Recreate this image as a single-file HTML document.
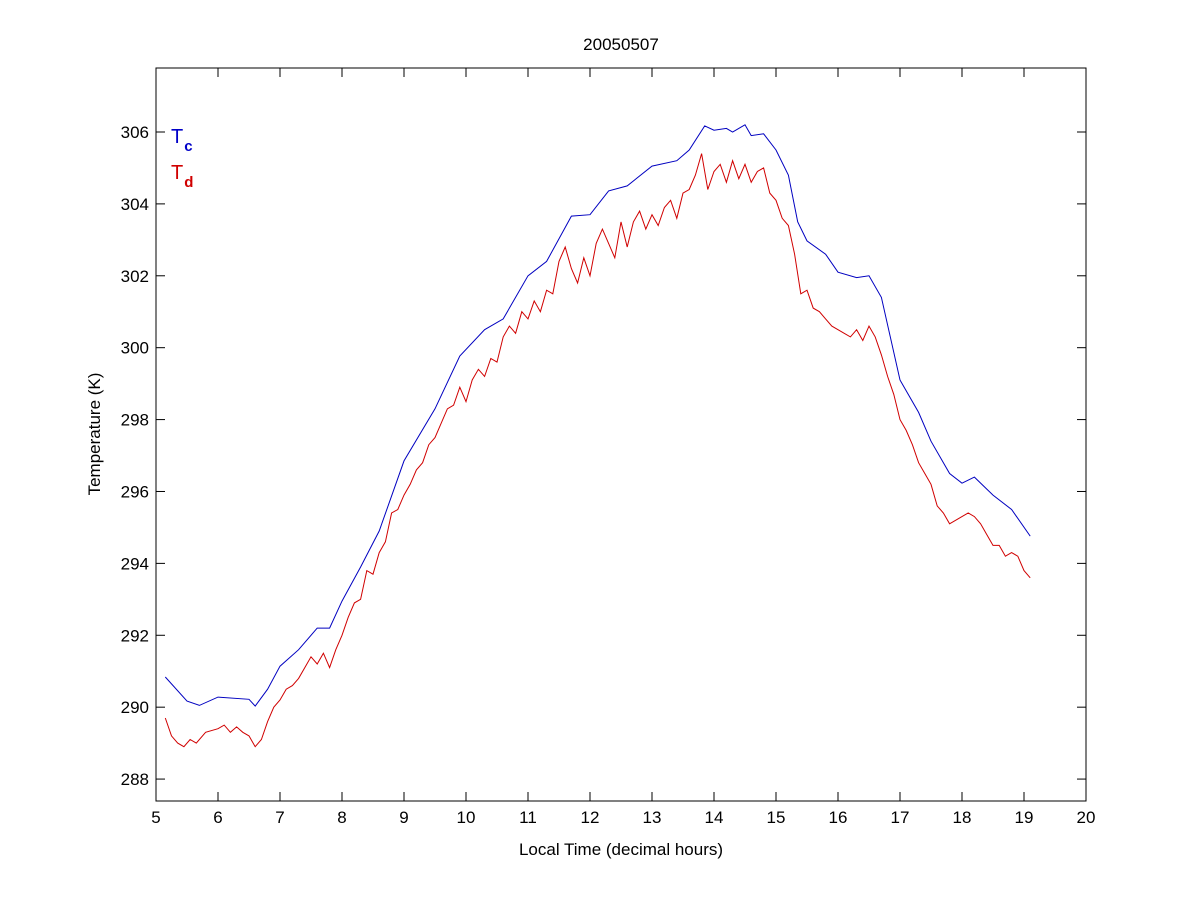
<!DOCTYPE html>
<html><head><meta charset="utf-8"><style>
html,body{margin:0;padding:0;background:#fff;}
svg text{font-family:"Liberation Sans",Arial,sans-serif;}
</style></head><body>
<svg id="chart" width="1200" height="900" xmlns="http://www.w3.org/2000/svg">
<rect x="0" y="0" width="1200" height="900" fill="#fff"/>
<g id="plot"></g>
</svg>
<script>
const xTicks=[5,6,7,8,9,10,11,12,13,14,15,16,17,18,19,20];
const yTicks=[288,290,292,294,296,298,300,302,304,306];
const tcTime=[5.15,5.5,5.7,6.0,6.5,6.6,6.8,7.0,7.3,7.6,7.8,8.0,8.3,8.6,9.0,9.5,9.9,10.3,10.6,11.0,11.3,11.7,12.0,12.3,12.6,13.0,13.4,13.6,13.85,14.0,14.2,14.3,14.5,14.6,14.8,15.0,15.2,15.35,15.5,15.8,16.0,16.3,16.5,16.7,17.0,17.3,17.5,17.8,18.0,18.2,18.5,18.8,19.1];
const tcValues=[290.84,290.17,290.05,290.28,290.22,290.03,290.5,291.14,291.6,292.2,292.2,292.95,293.9,294.9,296.85,298.3,299.77,300.5,300.8,302.0,302.4,303.66,303.7,304.36,304.5,305.05,305.2,305.5,306.17,306.05,306.1,306.0,306.2,305.9,305.95,305.5,304.8,303.5,302.97,302.6,302.1,301.95,302.0,301.4,299.1,298.2,297.4,296.5,296.23,296.4,295.9,295.5,294.76];
const tdTime=[5.15,5.25,5.35,5.45,5.55,5.65,5.8,6.0,6.1,6.2,6.3,6.4,6.5,6.6,6.7,6.8,6.9,7.0,7.1,7.2,7.3,7.4,7.5,7.6,7.7,7.8,7.9,8.0,8.1,8.2,8.3,8.4,8.5,8.6,8.7,8.8,8.9,9.0,9.1,9.2,9.3,9.4,9.5,9.6,9.7,9.8,9.9,10.0,10.1,10.2,10.3,10.4,10.5,10.6,10.7,10.8,10.9,11.0,11.1,11.2,11.3,11.4,11.5,11.6,11.7,11.8,11.9,12.0,12.1,12.2,12.3,12.4,12.5,12.6,12.7,12.8,12.9,13.0,13.1,13.2,13.3,13.4,13.5,13.6,13.7,13.8,13.9,14.0,14.1,14.2,14.3,14.4,14.5,14.6,14.7,14.8,14.9,15.0,15.1,15.2,15.3,15.4,15.5,15.6,15.7,15.8,15.9,16.0,16.1,16.2,16.3,16.4,16.5,16.6,16.7,16.8,16.9,17.0,17.1,17.2,17.3,17.4,17.5,17.6,17.7,17.8,17.9,18.0,18.1,18.2,18.3,18.4,18.5,18.6,18.7,18.8,18.9,19.0,19.1];
const tdValues=[289.7,289.2,289.0,288.9,289.1,289.0,289.3,289.4,289.5,289.3,289.45,289.3,289.2,288.9,289.1,289.6,290.0,290.2,290.5,290.6,290.8,291.1,291.4,291.2,291.5,291.1,291.6,292.0,292.5,292.9,293.0,293.8,293.7,294.3,294.6,295.4,295.5,295.9,296.2,296.6,296.8,297.3,297.5,297.9,298.3,298.4,298.9,298.5,299.1,299.4,299.2,299.7,299.6,300.3,300.6,300.4,301.0,300.8,301.3,301.0,301.6,301.5,302.4,302.8,302.2,301.8,302.5,302.0,302.9,303.3,302.9,302.5,303.5,302.8,303.5,303.8,303.3,303.7,303.4,303.9,304.1,303.6,304.3,304.4,304.8,305.4,304.4,304.9,305.1,304.6,305.2,304.7,305.1,304.6,304.9,305.0,304.3,304.1,303.6,303.4,302.6,301.5,301.6,301.1,301.0,300.8,300.6,300.5,300.4,300.3,300.5,300.2,300.6,300.3,299.8,299.2,298.7,298.0,297.7,297.3,296.8,296.5,296.2,295.6,295.4,295.1,295.2,295.3,295.4,295.3,295.1,294.8,294.5,294.5,294.2,294.3,294.2,293.8,293.6];

const L=156,R=1086,T=68,B=801,XMIN=5,XMAX=20,YMIN=287.39,YMAX=307.78;
const sx=v=>L+(v-XMIN)/(XMAX-XMIN)*(R-L);
const sy=v=>B-(v-YMIN)/(YMAX-YMIN)*(B-T);
const NS='http://www.w3.org/2000/svg';
const g=document.getElementById('plot');
function mk(tag,attrs,parent){const e=document.createElementNS(NS,tag);for(const k in attrs)e.setAttribute(k,attrs[k]);(parent||g).appendChild(e);return e;}

const frame=mk('rect',{x:L,y:T,width:R-L,height:B-T,fill:'none',stroke:'#000','stroke-width':1});



xTicks.forEach(t=>{
  const x=sx(t);
  const a=mk('line',{x1:x,y1:B,x2:x,y2:B-9,stroke:'#000'});
  
  
  const b=mk('line',{x1:x,y1:T,x2:x,y2:T+9,stroke:'#000'});
  
  
  const tx=mk('text',{x:x,y:B+22,'text-anchor':'middle','font-size':17});
  tx.textContent=t;
  
  
});
yTicks.forEach(t=>{
  const y=sy(t);
  const a=mk('line',{x1:L,y1:y,x2:L+9,y2:y,stroke:'#000'});
  
  
  const b=mk('line',{x1:R,y1:y,x2:R-9,y2:y,stroke:'#000'});
  
  
  const tx=mk('text',{x:L-7,y:y+6,'text-anchor':'end','font-size':17});
  tx.textContent=t;
  
  
});

function line(xs,ys,color,name){
  const d=xs.map((t,i)=>(i?'L':'M')+sx(t).toFixed(1)+','+sy(ys[i]).toFixed(1)).join('');
  const p=mk('path',{d:d,fill:'none',stroke:color,'stroke-width':1});
  
  
}
line(tcTime,tcValues,'#0000c0','tc-line');
line(tdTime,tdValues,'#d00000','td-line');

const title=mk('text',{x:621,y:50,'text-anchor':'middle','font-size':17});
title.textContent='20050507';


const xl=mk('text',{x:621,y:855,'text-anchor':'middle','font-size':17});
xl.textContent='Local Time (decimal hours)';


const yl=mk('text',{x:0,y:0,'text-anchor':'middle','font-size':17,transform:'translate(100,434) rotate(-90)'});
yl.textContent='Temperature (K)';



const l1=mk('text',{x:171,y:143,'font-size':20,fill:'#0000c8'});
l1.innerHTML='T<tspan dx="1" dy="8" font-size="15" font-weight="bold">c</tspan>';


const l2=mk('text',{x:171,y:179,'font-size':20,fill:'#d00000'});
l2.innerHTML='T<tspan dx="1" dy="8" font-size="15" font-weight="bold">d</tspan>';


</script>
</body></html>
